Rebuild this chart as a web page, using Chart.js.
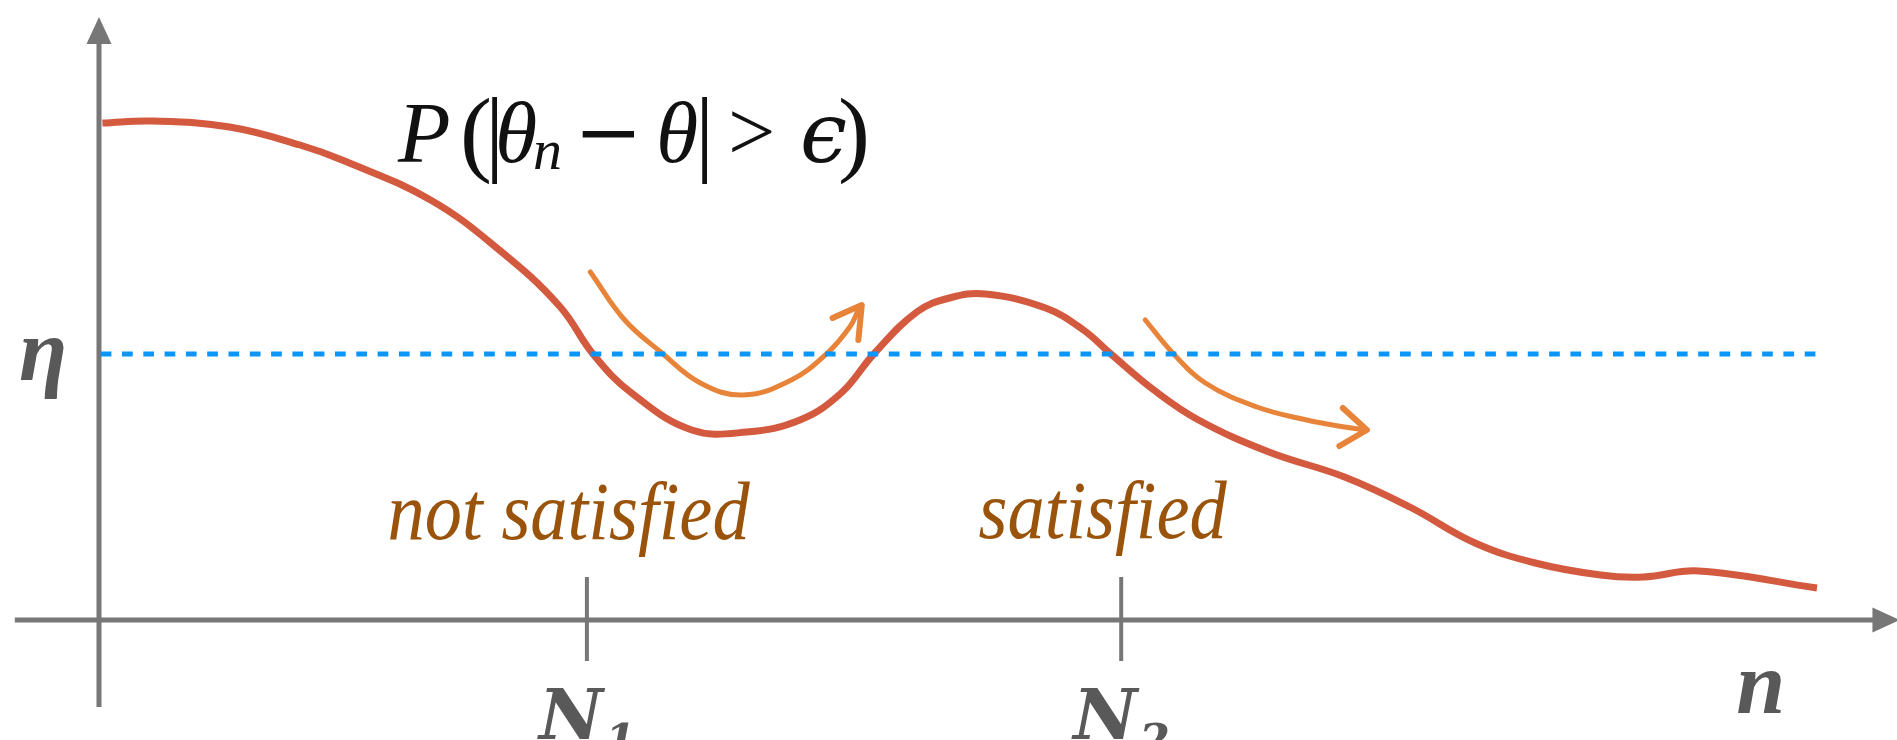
<!DOCTYPE html>
<html>
<head>
<meta charset="utf-8">
<script src="https://cdn.jsdelivr.net/npm/chart.js@4.4.1/dist/chart.umd.min.js"></script>
<style>
  html, body { margin: 0; padding: 0; background: #fff; overflow: hidden; }
  #wrap { width: 1897px; height: 740px; position: relative; }
</style>
</head>
<body>
<div id="wrap"><canvas id="chart"></canvas></div>
<script>
// Curva P(|θn - θ| > ε) frente a n
const curveN = [0.2, 3.1, 7.6, 11.7, 14.3, 19.3, 23.3, 26.8, 28.8, 31.0, 34.5, 37.7, 40.8, 43.2, 45.1, 47.6, 49.5, 51.6, 55.1, 57.3, 58.9, 61.4, 64.0, 68.1, 72.5, 76.3, 80.1, 83.6, 87.4, 89.9, 93.1, 100];
const curveP = [99.4, 99.8, 98.6, 95.0, 91.8, 84.0, 74.0, 62.8, 53.0, 45.4, 38.0, 37.6, 40.0, 45.4, 53.2, 61.6, 64.4, 65.2, 62.4, 58.0, 53.2, 46.0, 40.0, 33.6, 28.6, 22.6, 15.4, 11.4, 9.0, 8.6, 9.8, 6.4];

// Umbral η
const eta = 53.2;
const etaN = [0.1, 100];

// Marcas del eje n
const tickN = [28.4, 59.5];
const tickLabels = [['N', '1'], ['N', '2']];

// Flecha "not satisfied"
const arrow1N = [28.6, 30.6, 32.7, 35.0, 37.5, 40.3, 42.4, 43.7, 44.2];
const arrow1P = [69.6, 60.0, 53.6, 47.4, 45.0, 48.0, 53.4, 58.6, 62.0];
const head1N = [42.7, 44.4, 44.2];
const head1P = [60.4, 63.0, 56.0];

// Flecha "satisfied"
const arrow2N = [60.9, 62.5, 64.4, 67.4, 70.3, 72.5, 73.6];
const arrow2P = [60.0, 53.4, 47.4, 42.6, 40.0, 38.6, 38.1];
const head2N = [72.4, 73.8, 72.2];
const head2P = [42.4, 38.0, 34.8];

// Textos
const zoneLabels = [
    { text: 'not satisfied', n: 16.8, p: 16.2, width: 362 },
    { text: 'satisfied', n: 51.2, p: 16.4, width: 248 }
];

const RED = '#d35a3e';
const ORANGE = '#e8843a';
const BLUE = '#0a96f8';
const AXIS = '#777777';
const LABEL = '#595959';
const BROWN = '#99530a';

const toXY = (xs, ys) => xs.map((v, i) => ({ x: v, y: ys[i] }));

const axesPlugin = {
    id: 'axes',
    beforeDatasetsDraw(chart) {
        const { ctx, scales: { x, y } } = chart;
        const x0 = x.getPixelForValue(0);
        const y0 = y.getPixelForValue(0);
        ctx.save();
        ctx.strokeStyle = AXIS;
        ctx.fillStyle = AXIS;
        ctx.lineWidth = 5;

        // eje vertical
        const yTop = y.getPixelForValue(120.6);
        ctx.beginPath();
        ctx.moveTo(x0, y.getPixelForValue(-17.4));
        ctx.lineTo(x0, yTop + 20);
        ctx.stroke();
        ctx.beginPath();
        ctx.moveTo(x0, yTop);
        ctx.lineTo(x0 - 12.5, yTop + 27);
        ctx.lineTo(x0 + 12.5, yTop + 27);
        ctx.closePath();
        ctx.fill();

        // eje horizontal
        const xTip = x.getPixelForValue(104.8);
        ctx.beginPath();
        ctx.moveTo(x.getPixelForValue(-4.9), y0);
        ctx.lineTo(xTip - 20, y0);
        ctx.stroke();
        ctx.beginPath();
        ctx.moveTo(xTip, y0);
        ctx.lineTo(xTip - 27, y0 - 12.5);
        ctx.lineTo(xTip - 27, y0 + 12.5);
        ctx.closePath();
        ctx.fill();

        // marcas N1, N2
        ctx.lineWidth = 4;
        tickN.forEach(n => {
            const px = x.getPixelForValue(n);
            ctx.beginPath();
            ctx.moveTo(px, y.getPixelForValue(8.6));
            ctx.lineTo(px, y.getPixelForValue(-8.2));
            ctx.stroke();
        });
        ctx.restore();
    },
    afterDatasetsDraw(chart) {
        const { ctx, scales: { x, y } } = chart;
        const x0 = x.getPixelForValue(0);
        const y0 = y.getPixelForValue(0);
        ctx.save();
        ctx.textBaseline = 'alphabetic';
        ctx.textAlign = 'left';

        // etiquetas N1, N2
        ctx.fillStyle = LABEL;
        tickN.forEach((n, i) => {
            const px = x.getPixelForValue(n);
            ctx.font = 'bold italic 70px "DejaVu Serif"';
            ctx.fillText(tickLabels[i][0], px - 48, y0 + 119);
            ctx.font = 'bold italic 44px "DejaVu Serif"';
            ctx.fillText(tickLabels[i][1], px + 18, y0 + 136);
        });

        // n y η
        ctx.font = 'bold italic 88px "Liberation Serif"';
        ctx.fillText('n', x.getPixelForValue(95.3), y0 + 93);
        ctx.fillText('η', x0 - 80, y.getPixelForValue(eta) + 26);

        // textos de zona
        ctx.fillStyle = BROWN;
        ctx.font = 'italic 82px "Liberation Serif"';
        zoneLabels.forEach(l => {
            ctx.fillText(l.text, x.getPixelForValue(l.n), y.getPixelForValue(l.p), l.width);
        });

        // fórmula
        ctx.fillStyle = '#111';
        const base = 162;
        const it = 'italic 86px "Liberation Serif", "DejaVu Serif"';
        const rm = '84px "Liberation Serif", "DejaVu Serif"';
        const big = '96px "Liberation Serif", "DejaVu Serif"';
        const parts = [
            ['P', 398, it, base],
            ['(', 460, big, base + 2],
            ['|', 485, big, base + 2],
            ['θ', 495, it, base],
            ['n', 533, 'italic 58px "Liberation Serif"', base + 7],
            ['\u2212', 574, '300 82px "DejaVu Serif"', base - 2],
            ['θ', 656, it, base],
            ['|', 695, big, base + 2],
            ['>', 728, rm, base - 2],
            ['\u03f5', 800, 'italic 84px "DejaVu Serif"', base],
            [')', 838, big, base + 2]
        ];
        parts.forEach(([t, px, f, b]) => {
            ctx.font = f;
            ctx.fillText(t, px, b);
        });
        ctx.restore();
    }
};

new Chart(document.getElementById('chart').getContext('2d'), {
    type: 'line',
    data: {
        datasets: [
            {
                data: toXY(etaN, etaN.map(() => eta)),
                borderColor: BLUE,
                borderWidth: 5,
                borderDash: [10.7, 10.6],
                pointRadius: 0,
                tension: 0
            },
            {
                data: toXY(curveN, curveP),
                borderColor: RED,
                borderWidth: 7,
                pointRadius: 0,
                tension: 0.4,
                borderCapStyle: 'butt'
            },
            {
                data: toXY(arrow1N, arrow1P),
                borderColor: ORANGE,
                borderWidth: 5,
                pointRadius: 0,
                tension: 0.4,
                borderCapStyle: 'round'
            },
            {
                data: toXY(head1N, head1P),
                borderColor: ORANGE,
                borderWidth: 6,
                pointRadius: 0,
                tension: 0,
                borderCapStyle: 'round',
                borderJoinStyle: 'round'
            },
            {
                data: toXY(arrow2N, arrow2P),
                borderColor: ORANGE,
                borderWidth: 5,
                pointRadius: 0,
                tension: 0.4,
                borderCapStyle: 'round'
            },
            {
                data: toXY(head2N, head2P),
                borderColor: ORANGE,
                borderWidth: 6,
                pointRadius: 0,
                tension: 0,
                borderCapStyle: 'round',
                borderJoinStyle: 'round'
            }
        ]
    },
    options: {
        responsive: true,
        maintainAspectRatio: false,
        animation: false,
        layout: { padding: 0 },
        plugins: {
            legend: { display: false },
            tooltip: { enabled: false }
        },
        scales: {
            x: { type: 'linear', display: false, min: -5.762, max: 104.657 },
            y: { type: 'linear', display: false, min: -24, max: 124 }
        }
    },
    plugins: [axesPlugin]
});
</script>
</body>
</html>
